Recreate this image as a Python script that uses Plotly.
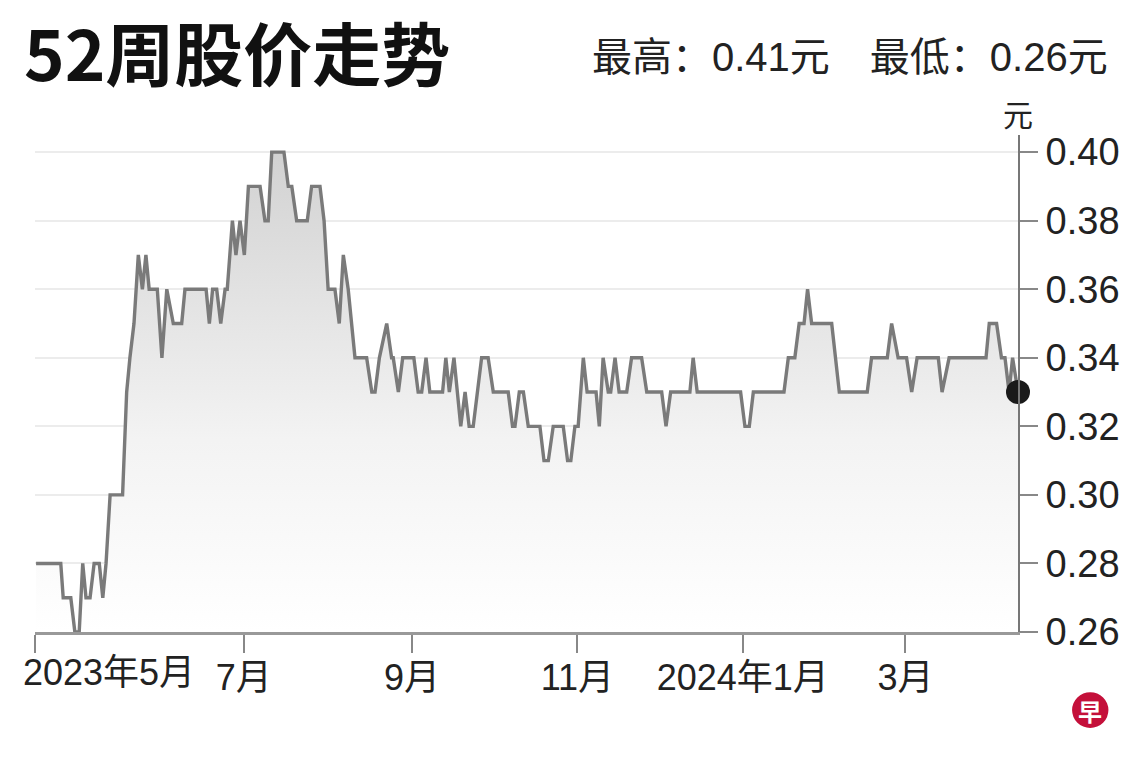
import pandas as pd
import plotly.graph_objects as go

# 52周股价：折线拐点（距起始日的天数, 收盘价）
START_DATE = "2023-04-15"
DAYS = [
    0.4, 9.5, 10.4, 13.2, 14.7, 16.3, 17.6, 18.8, 20.3, 21.8,
    23.7, 25.0, 26.2, 27.7, 32.3, 33.8, 35.0, 36.5, 38.1, 39.6,
    40.9, 42.1, 45.1, 46.8, 48.6, 51.0, 54.1, 55.3, 63.1, 64.3,
    65.5, 67.0, 68.5, 70.1, 70.9, 72.8, 74.1, 75.6, 77.2, 78.7,
    83.0, 84.8, 86.0, 87.3, 91.8, 93.4, 94.7, 96.5, 100.4, 102.0,
    105.1, 106.6, 108.1, 110.6, 112.2, 113.7, 115.5, 118.0, 122.3, 124.2,
    125.4, 127.0, 129.7, 131.5, 132.1, 134.0, 135.6, 139.7, 141.3, 142.6,
    144.2, 145.6, 150.3, 151.5, 152.8, 154.5, 157.0, 158.6, 160.1, 161.6,
    164.7, 167.1, 169.0, 174.5, 176.1, 177.0, 178.6, 180.1, 181.9, 186.2,
    187.7, 189.3, 191.1, 194.8, 196.4, 197.6, 199.1, 200.3, 202.2, 203.6,
    206.9, 208.1, 209.5, 211.4, 212.3, 213.9, 215.4, 218.2, 220.0, 223.7,
    225.6, 231.1, 232.7, 234.4, 241.5, 242.7, 244.2, 260.2, 261.8, 263.4,
    264.9, 276.2, 277.8, 280.2, 281.8, 283.6, 284.9, 286.4, 293.8, 296.6,
    306.9, 308.5, 314.3, 315.9, 318.3, 321.4, 323.3, 325.3, 333.1, 334.5,
    337.1, 350.7, 351.9, 354.6, 356.4, 357.7, 359.2, 360.5, 362.5,
]
PRICES = [
    0.28, 0.28, 0.27, 0.27, 0.26, 0.26, 0.28, 0.27, 0.27, 0.28,
    0.28, 0.27, 0.28, 0.30, 0.30, 0.33, 0.34, 0.35, 0.37, 0.36,
    0.37, 0.36, 0.36, 0.34, 0.36, 0.35, 0.35, 0.36, 0.36, 0.35,
    0.36, 0.36, 0.35, 0.36, 0.36, 0.38, 0.37, 0.38, 0.37, 0.39,
    0.39, 0.38, 0.38, 0.40, 0.40, 0.39, 0.39, 0.38, 0.38, 0.39,
    0.39, 0.38, 0.36, 0.36, 0.35, 0.37, 0.36, 0.34, 0.34, 0.33,
    0.33, 0.34, 0.35, 0.34, 0.34, 0.33, 0.34, 0.34, 0.33, 0.33,
    0.34, 0.33, 0.33, 0.34, 0.33, 0.34, 0.32, 0.33, 0.32, 0.32,
    0.34, 0.34, 0.33, 0.33, 0.32, 0.32, 0.33, 0.33, 0.32, 0.32,
    0.31, 0.31, 0.32, 0.32, 0.31, 0.31, 0.32, 0.32, 0.34, 0.33,
    0.33, 0.32, 0.34, 0.33, 0.33, 0.34, 0.33, 0.33, 0.34, 0.34,
    0.33, 0.33, 0.32, 0.33, 0.33, 0.34, 0.33, 0.33, 0.32, 0.32,
    0.33, 0.33, 0.34, 0.34, 0.35, 0.35, 0.36, 0.35, 0.35, 0.33,
    0.33, 0.34, 0.34, 0.35, 0.34, 0.34, 0.33, 0.34, 0.34, 0.33,
    0.34, 0.34, 0.35, 0.35, 0.34, 0.34, 0.33, 0.34, 0.33,
]

TICK_DATES = ["2023-04-15", "2023-07-01", "2023-09-01", "2023-11-01", "2024-01-01", "2024-03-01"]
TICK_TEXT = ["", "7月", "9月", "11月", "2024年1月", "3月"]
FIRST_LABEL = "2023年5月"

TITLE = "52周股价走势"
HIGH_LOW = "最高：0.41元　最低：0.26元"
UNIT = "元"

FONT = "Liberation Sans, Arial, Noto Sans CJK SC, sans-serif"

dates = pd.Timestamp(START_DATE) + pd.to_timedelta(DAYS, unit="D")

fig = go.Figure()

# 股价折线 + 渐变填充
fig.add_trace(
    go.Scatter(
        x=dates,
        y=PRICES,
        mode="lines",
        line=dict(color="#7a7a7a", width=3.4),
        fill="tozeroy",
        fillgradient=dict(
            type="vertical",
            start=0.26,
            stop=0.40,
            colorscale=[[0, "rgb(255,255,255)"], [0.4, "rgb(243,243,243)"], [1, "rgb(210,210,210)"]],
        ),
        hoverinfo="skip",
        showlegend=False,
    )
)

# 最新价圆点
fig.add_trace(
    go.Scatter(
        x=[dates[-1]],
        y=[PRICES[-1]],
        mode="markers",
        marker=dict(color="#1a1a1a", size=24),
        cliponaxis=False,
        hoverinfo="skip",
        showlegend=False,
    )
)

fig.update_layout(
    width=1140,
    height=760,
    margin=dict(l=35, r=122, t=135, b=128),
    paper_bgcolor="white",
    plot_bgcolor="white",
    font=dict(family=FONT, color="#222222"),
    title=dict(
        text=TITLE,
        font=dict(family="Noto Sans CJK SC", size=69, color="#111111", weight="bold"),
        xref="container",
        x=0.021,
        xanchor="left",
        y=0.925,
        yanchor="middle",
    ),
)

fig.update_xaxes(
    type="date",
    range=[dates[0] - pd.Timedelta(days=0.4), dates[-1]],
    tickvals=TICK_DATES,
    ticktext=TICK_TEXT,
    ticks="outside",
    ticklen=18,
    tickwidth=1.5,
    tickcolor="#888888",
    tickfont=dict(size=36, color="#222222"),
    ticklabelstandoff=-6,
    showline=True,
    linecolor="#999999",
    linewidth=3,
    showgrid=False,
    zeroline=False,
)

fig.update_yaxes(
    side="right",
    range=[0.26, 0.405],
    dtick=0.02,
    tick0=0.26,
    tickformat=".2f",
    ticks="outside",
    ticklen=18,
    tickwidth=1.5,
    tickcolor="#888888",
    tickfont=dict(size=38, color="#222222"),
    showline=True,
    linecolor="#777777",
    linewidth=2,
    showgrid=True,
    gridcolor="#ececec",
    gridwidth=1.5,
    zeroline=False,
)

# 首个刻度标签（左对齐放置）
fig.add_annotation(
    x=TICK_DATES[0],
    y=0,
    xref="x",
    yref="paper",
    text=FIRST_LABEL,
    showarrow=False,
    xanchor="left",
    yanchor="top",
    xshift=-14,
    yshift=-18,
    font=dict(size=36, color="#222222"),
)

# 最高 / 最低
fig.add_annotation(
    x=1.094,
    y=1.157,
    xref="paper",
    yref="paper",
    text=HIGH_LOW,
    showarrow=False,
    xanchor="right",
    yanchor="middle",
    font=dict(size=40, color="#222222"),
)

# 单位
fig.add_annotation(
    x=1.0,
    y=1.04,
    xref="paper",
    yref="paper",
    text=UNIT,
    showarrow=False,
    xanchor="center",
    yanchor="middle",
    font=dict(size=30, color="#222222"),
)

# 角标
fig.add_shape(
    type="circle",
    xref="paper",
    yref="paper",
    x0=1.055,
    x1=1.092,
    y0=-0.193,
    y1=-0.121,
    fillcolor="#c4103a",
    line=dict(width=0),
)
fig.add_annotation(
    x=1.0735,
    y=-0.157,
    xref="paper",
    yref="paper",
    text="早",
    showarrow=False,
    xanchor="center",
    yanchor="middle",
    font=dict(family="Noto Sans CJK SC", size=24, color="white", weight="bold"),
)

fig.write_html(
    "out.html",
    config={"displayModeBar": False},
    post_script="document.body.style.margin='0px';",
)
